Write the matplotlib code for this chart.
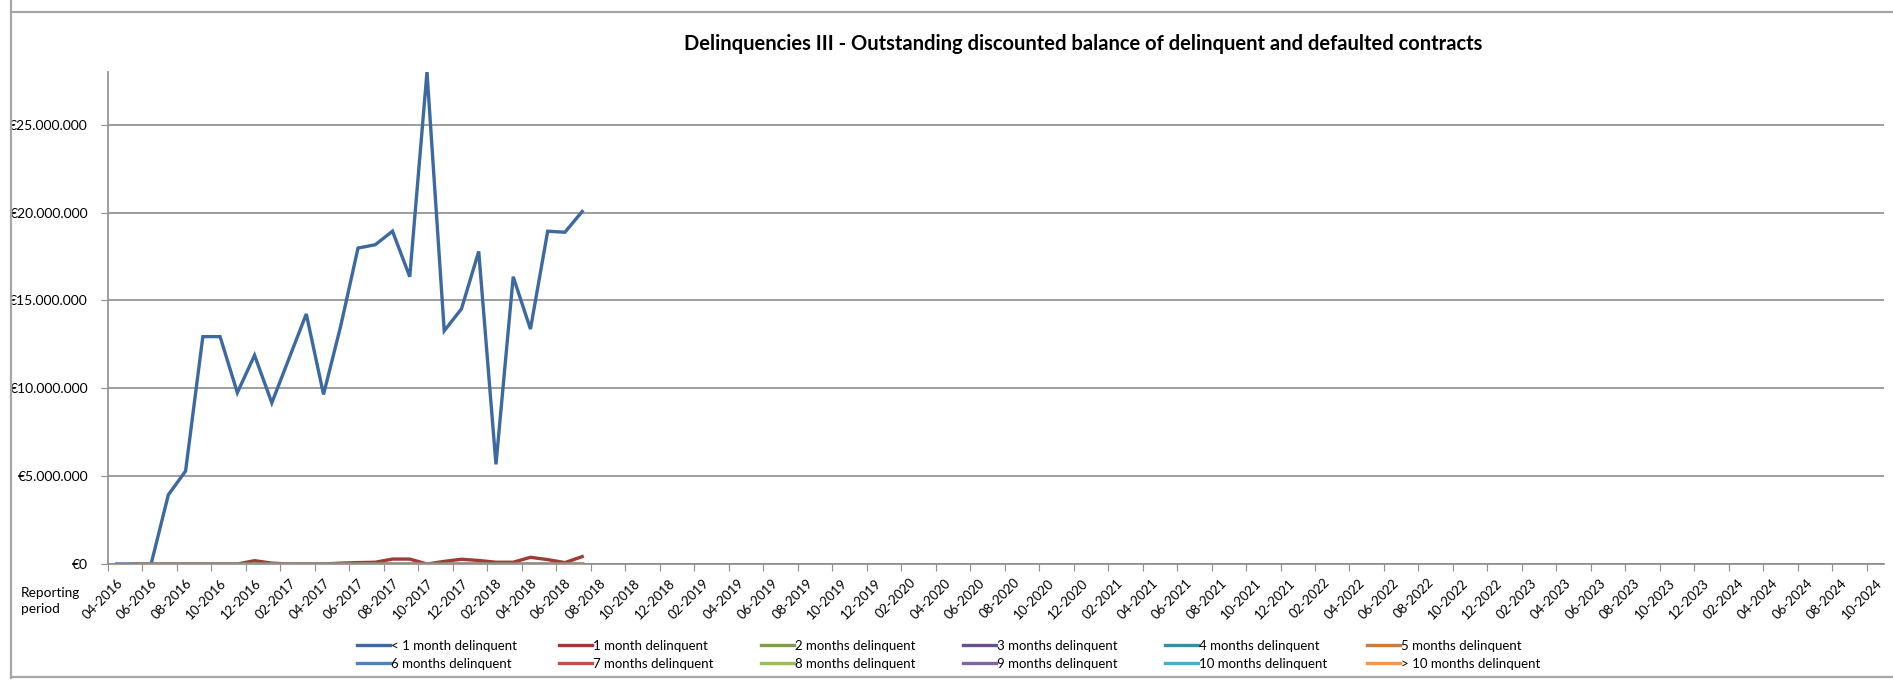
#!/usr/bin/env python
import numpy as np
import pandas as pd
import matplotlib
matplotlib.use("Agg")
import matplotlib.pyplot as plt
from matplotlib.lines import Line2D

plt.rcParams['font.family'] = ['Lato', 'DejaVu Sans']

# Reporting periods on the category axis (monthly, 04-2016 .. 10-2024)
periods = [p.strftime("%m-%Y") for p in pd.period_range("2016-04", "2024-10", freq="M")]

series_names = ["< 1 month delinquent", "1 month delinquent", "2 months delinquent",
                "3 months delinquent", "4 months delinquent", "5 months delinquent",
                "6 months delinquent", "7 months delinquent", "8 months delinquent",
                "9 months delinquent", "10 months delinquent", "> 10 months delinquent"]
series_colors = ["#3c69a0", "#a03a37", "#7f9a48", "#67518a", "#3a8ea4", "#cc7b38",
                 "#4f81bd", "#c0504d", "#9bbb59", "#8064a2", "#4bacc6", "#f79646"]

# Outstanding balance in EUR, 04-2016 .. 07-2018
lt_1_month = [0, 0, 0, 3.94e6, 5.29e6, 12.94e6, 12.94e6, 9.75e6, 11.88e6, 9.17e6,
              11.7e6, 14.23e6, 9.65e6, 13.56e6, 17.98e6, 18.17e6, 18.94e6, 16.35e6,
              28.0e6, 13.27e6, 14.52e6, 17.79e6, 5.67e6, 16.35e6, 13.37e6, 18.94e6,
              18.88e6, 20.06e6]
# 05-2016 .. 07-2018
one_month = [0, 0, 0, 0, 0, 0, 0, 0.19e6, 0.05e6, 0, 0, 0, 0.05e6, 0.08e6, 0.10e6,
             0.28e6, 0.28e6, 0, 0.15e6, 0.27e6, 0.20e6, 0.10e6, 0.10e6, 0.38e6,
             0.25e6, 0.08e6, 0.42e6]
other_months = [0] * 27

n = len(periods)


def pad(values, start):
    out = np.full(n, np.nan)
    out[start:start + len(values)] = values
    return out


data = [pad(lt_1_month, 0), pad(one_month, 1)] + [pad(other_months, 1) for _ in range(10)]

fig = plt.figure(figsize=(18.93, 6.8), dpi=100)
ax = fig.add_axes([108 / 1893, 1 - 564 / 680, (1884 - 108) / 1893, (564 - 72) / 680])

x = np.arange(n)
for vals, name, col in zip(data, series_names, series_colors):
    ax.plot(x, vals, color=col, lw=2.4, label=name, solid_joinstyle='miter')

ax.set_xlim(-0.5, n - 0.5)
ax.set_ylim(0, 28e6)

grid_col = "#8c8c8c"
ax.set_yticks(np.arange(0, 26e6, 5e6))
ax.set_yticklabels(["€" + f"{int(v):,}".replace(",", ".") for v in np.arange(0, 26e6, 5e6)])
ax.yaxis.grid(True, color=grid_col, lw=1.2)
ax.set_axisbelow(True)
ax.tick_params(axis='y', length=5, color=grid_col, labelsize=10, pad=9.4)

# boundary tick marks every 2 categories, labels at category centres
ax.set_xticks(np.arange(-0.5, n - 1, 2))
ax.set_xticklabels([])
ax.tick_params(axis='x', which='major', length=5, color=grid_col)
ax.set_xticks(np.arange(0, n, 2), minor=True)
ax.set_xticklabels(periods[::2], minor=True, rotation=45, ha='right',
                   rotation_mode='anchor', fontsize=9.5)
ax.tick_params(axis='x', which='minor', length=0, pad=9)

for side in ['top', 'right']:
    ax.spines[side].set_visible(False)
for side in ['left', 'bottom']:
    ax.spines[side].set_color(grid_col)
    ax.spines[side].set_linewidth(1.2)

fig.text(0.572, 0.936, "Delinquencies III - Outstanding discounted balance of delinquent and defaulted contracts",
         ha='center', va='center', fontsize=14.5, fontweight='bold')
fig.text(21 / 1893, 1 - 601 / 680, "Reporting\nperiod", ha='left', va='center',
         fontsize=9.8, linespacing=1.45)

# legend: six equal columns, row 1 = series 0..5, row 2 = series 6..11
handles = [Line2D([], [], color=c, lw=2.4) for c in series_colors]
for c in range(6):
    fig.legend([handles[c], handles[c + 6]], [series_names[c], series_names[c + 6]],
               loc='center left', bbox_to_anchor=((357 + 202 * c) / 1893, 1 - 655 / 680),
               frameon=False, fontsize=9.5, handlelength=2.5, handletextpad=0.1,
               labelspacing=0.45, borderpad=0, borderaxespad=0)

# chart frame (top, left, bottom edges) and clipping of the y labels
fig.patches.append(plt.Rectangle((0, 0), 11 / 1893, 1, transform=fig.transFigure,
                                 color='white', zorder=5))
for xs, ys in [((11, 1893), (12, 12)), ((11, 11), (0, 678)), ((11, 1893), (677, 677))]:
    fig.add_artist(Line2D([xs[0] / 1893, xs[1] / 1893], [1 - ys[0] / 680, 1 - ys[1] / 680],
                          color="#a6a6a6", lw=1.6, zorder=6))

fig.savefig("out.png", dpi=100)
